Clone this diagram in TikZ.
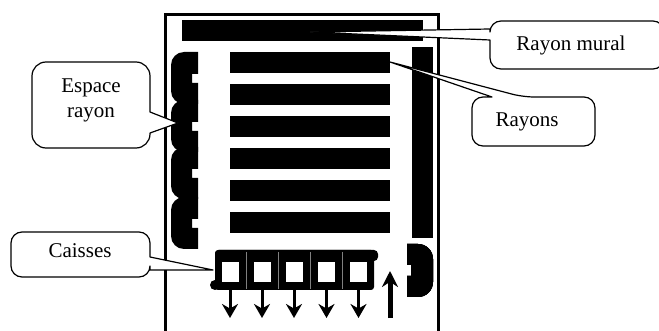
\documentclass[tikz,border=0pt]{standalone}
\usepackage{fontspec}
\setmainfont{Liberation Serif}
\usetikzlibrary{arrows.meta}
\tikzset{
  label text/.style={font=\fontsize{21}{25}\selectfont, align=center, inner sep=0pt},
  callout line/.style={draw=black, fill=white, line width=1.2pt, line join=round},
  arrow line/.style={line width=3pt, -{Stealth[length=14pt, width=16pt]}},
}
% one block of shelf space, top edge at y = #1
\newcommand{\shelfspace}[1]{
  \fill (198,#1) [rounded corners=13pt] -- (171,#1) -- (171,#1+52) [sharp corners] -- (198,#1+52) -- (198,#1+31) -- (192,#1+31) -- (192,#1+22) -- (198,#1+22) -- cycle;
}
\begin{document}
\begin{tikzpicture}[x=1pt, y=-1pt]
\useasboundingbox (0,0) rectangle (659,331);
% walls
\draw[line width=3.2pt] (165.6,331) -- (165.6,14.6) -- (438.8,14.6) -- (438.8,331);
% wall shelf and side shelf
\fill (182,20) rectangle (423,41);
\fill (412,47) rectangle (433,238);
% shelves
\foreach \y in {52,84,116,148,180,212}
  \fill (230,\y) rectangle (390,\y+21);
% shelf space on the left
\foreach \y in {52,100,147,197}
  \shelfspace{\y}
% shelf space by the entrance
\fill (407,244) [rounded corners=15pt] -- (433,244) -- (433,297) [sharp corners] -- (407,297) -- (407,276) -- (411,276) -- (411,265) -- (407,265) -- cycle;
% tills
\fill[rounded corners=4pt] (215,250) rectangle (378,261);
\fill[rounded corners=3pt] (215,250) rectangle (374,290);
\fill (215,285) circle (5);
\foreach \x in {222,254,286,318,350}
  \fill[white] (\x,262) rectangle (\x+16.5,282);
\foreach \x in {246.5,278.5,310.5,342.5}
  \draw[gray, line width=0.5pt] (\x,252) -- (\x,289);
\foreach \x [count=\i] in {230,262,294,326.5,358.5} {
  \coordinate (till\i) at (\x,290);
  \coordinate (out\i) at (\x,318);
  \draw[arrow line] (till\i) -- (out\i);
}
% way in
\coordinate (entryfoot) at (390,318);
\coordinate (entrytip) at (390,271);
\draw[line width=5pt, -{Stealth[length=16pt, width=16pt]}] (entryfoot) -- (entrytip);
% callouts
\draw[callout line, rounded corners=11pt] (490,40) -- (490,69) -- (664,69) -- (664,21) -- (490,21) [sharp corners] -- (490,29) -- (310,32) -- cycle;
\draw[callout line, rounded corners=11pt] (492,97) -- (472,97) -- (472,146) -- (595,146) -- (595,97) -- (523,97) [sharp corners] -- (390,62) -- cycle;
\draw[callout line, rounded corners=14pt] (150,112) -- (150,62) -- (32,62) -- (32,148) -- (150,148) [sharp corners] -- (150,133) -- (178,123) -- cycle;
\draw[callout line, rounded corners=11pt] (150,257) -- (150,232) -- (11,232) -- (11,277) -- (150,277) [sharp corners] -- (150,270) -- (213,270) -- cycle;
\node[label text] (mural) at (571,45) {Rayon mural};
\node[label text] (rayons) at (527,122) {Rayons};
\node[label text] (espace) at (91,100) {Espace\\rayon};
\node[label text] (caisses) at (80,251) {Caisses};
\end{tikzpicture}
\end{document}
